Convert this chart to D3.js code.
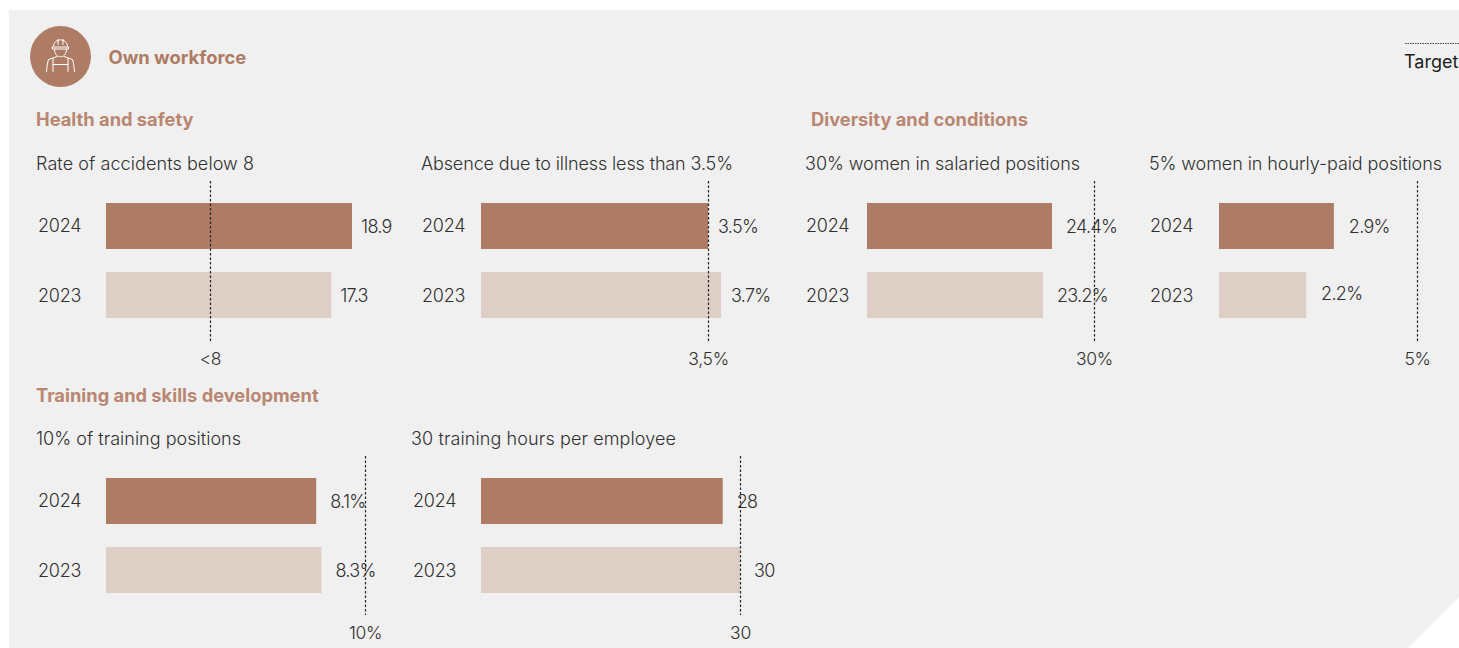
<!DOCTYPE html>
<html>
<head>
<meta charset="utf-8">
<style>
  html, body { margin: 0; padding: 0; background: #fff; overflow: hidden; }
  text { font-family: Inter, "Noto Sans", sans-serif; }
</style>
<script src="https://cdn.jsdelivr.net/npm/d3@7"></script>
</head>
<body>
<svg id="chart" width="1459" height="648"></svg>
<script>
const years = ["2024", "2023"];

const panelTitles = [
  "Rate of accidents below 8",
  "Absence due to illness less than 3.5%",
  "30% women in salaried positions",
  "5% women in hourly-paid positions",
  "10% of training positions",
  "30 training hours per employee"
];
const values2024 = [18.9, 3.5, 24.4, 2.9, 8.1, 28];
const values2023 = [17.3, 3.7, 23.2, 2.2, 8.3, 30];
const valueLabels2024 = ["18.9", "3.5%", "24.4%", "2.9%", "8.1%", "28"];
const valueLabels2023 = ["17.3", "3.7%", "23.2%", "2.2%", "8.3%", "30"];
const targets = [8, 3.5, 30, 5, 10, 30];
const targetLabels = ["<8", "3,5%", "30%", "5%", "10%", "30"];

const sectionTitles = [
  { text: "Health and safety", x: 36, y: 125.5 },
  { text: "Diversity and conditions", x: 811, y: 125.5 },
  { text: "Training and skills development", x: 36, y: 401.5 }
];

// Layout of each small multiple: the x scale runs from the bar origin to the
// pixel reached at domainMax. titleWidth fits each heading to its column.
const layouts = [
  { titleX: 36,   titleWidth: 218, yearX: 38,   x0: 106,  domainMax: 18.9, x1: 352,   top: 0,   labelGap: 9,  lowerDy: 0,  lineTop: 181, lineBottom: 341, targetY: 365 },
  { titleX: 421,  titleWidth: 312, yearX: 422,  x0: 481,  domainMax: 3.5,  x1: 708,   top: 0,   labelGap: 10, lowerDy: 0,  lineTop: 181, lineBottom: 341, targetY: 365 },
  { titleX: 805,  titleWidth: 275, yearX: 806,  x0: 867,  domainMax: 24.4, x1: 1052,  top: 0,   labelGap: 14, lowerDy: 0,  lineTop: 181, lineBottom: 341, targetY: 365 },
  { titleX: 1149, titleWidth: 293, yearX: 1150, x0: 1219, domainMax: 5,    x1: 1417,  top: 0,   labelGap: 15, lowerDy: -2, lineTop: 181, lineBottom: 341, targetY: 365 },
  { titleX: 36,   titleWidth: 205, yearX: 38,   x0: 106,  domainMax: 10,   x1: 365.5, top: 275, labelGap: 14, lowerDy: 0,  lineTop: 456, lineBottom: 615, targetY: 639 },
  { titleX: 411,  titleWidth: 265, yearX: 413,  x0: 481,  domainMax: 30,   x1: 740,   top: 275, labelGap: 14, lowerDy: 0,  lineTop: 456, lineBottom: 615, targetY: 639 }
];

const ACCENT = "#ae7b65";
const HEADING = "#b98771";
const PALE = "#ddcec6";
const INK = "#303030";

const svg = d3.select("#chart");

// Panel background with its clipped lower-right corner
const bg = d3.path();
bg.moveTo(9, 10);
bg.lineTo(1459, 10);
bg.lineTo(1459, 597);
bg.lineTo(1408, 648);
bg.lineTo(9, 648);
bg.closePath();
svg.append("path").attr("d", bg.toString()).attr("fill", "#f0f0f0");

// Header badge with a line-drawn worker in a hard hat
const badge = svg.append("g").attr("transform", "translate(60.5,56.5)");
badge.append("circle").attr("r", 30.5).attr("fill", ACCENT);
const icon = badge.append("g")
  .attr("fill", "none").attr("stroke", "#fff").attr("stroke-width", 1)
  .attr("stroke-linecap", "round").attr("stroke-linejoin", "round");
icon.append("path").attr("d", "M-7,-10 C-7,-19 7,-19 7,-10");
icon.append("path").attr("d", "M-2.5,-17 L-2.5,-12 M2.5,-17 L2.5,-12");
icon.append("path").attr("d", "M-8,-9.5 L8,-9.5 L8,-7.5 L-8,-7.5 Z");
icon.append("path").attr("d", "M-6,-7 C-6,3 6,3 6,-7");
icon.append("path").attr("d", "M-3.5,0 L-12,3 C-13,6 -13.5,10 -14,15");
icon.append("path").attr("d", "M3.5,0 L12,3 C13,6 13.5,10 14,15");
icon.append("path").attr("d", "M-7.5,2 L-7.5,15 M7.5,2 L7.5,15 M-7.5,8 L7.5,8");

svg.append("text").attr("x", 108.5).attr("y", 63.5)
  .attr("font-size", 18.4).attr("font-weight", 700).attr("fill", ACCENT)
  .text("Own workforce");

// Legend for the dotted target line
svg.append("line")
  .attr("x1", 1405).attr("x2", 1459).attr("y1", 43.5).attr("y2", 43.5)
  .attr("stroke", "#444").attr("stroke-width", 1).attr("stroke-dasharray", "1.5 1");
svg.append("text").attr("x", 1404).attr("y", 68)
  .attr("font-size", 18).attr("font-weight", 400).attr("fill", "#1c1c1c")
  .text("Target");

svg.selectAll("text.section").data(sectionTitles).join("text")
  .attr("class", "section")
  .attr("x", d => d.x).attr("y", d => d.y)
  .attr("font-size", 18.3).attr("font-weight", 700).attr("fill", HEADING)
  .text(d => d.text);

// Small multiples
panelTitles.forEach((title, i) => {
  const l = layouts[i];
  const g = svg.append("g");
  const x = d3.scaleLinear().domain([0, l.domainMax]).range([l.x0, l.x1]);
  const y = d3.scaleBand().domain(years)
    .range([203 + l.top, 318 + l.top]).paddingInner(1 / 3).paddingOuter(0);
  const row = [
    { year: "2024", value: values2024[i], label: valueLabels2024[i], fill: ACCENT, yearDy: 0, dy: 0 },
    { year: "2023", value: values2023[i], label: valueLabels2023[i], fill: PALE, yearDy: 1, dy: l.lowerDy }
  ];

  g.append("text").attr("x", l.titleX).attr("y", 170 + l.top)
    .attr("font-size", 18).attr("font-weight", 300).attr("fill", INK)
    .attr("textLength", l.titleWidth).attr("lengthAdjust", "spacing")
    .text(title);

  g.selectAll("rect").data(row).join("rect")
    .attr("x", x(0)).attr("y", d => y(d.year))
    .attr("width", d => x(d.value) - x(0)).attr("height", y.bandwidth())
    .attr("fill", d => d.fill);

  g.selectAll("text.year").data(row).join("text")
    .attr("class", "year")
    .attr("x", l.yearX).attr("y", d => y(d.year) + y.bandwidth() / 2 + 6 + d.yearDy)
    .attr("font-size", 18).attr("font-weight", 300).attr("fill", INK)
    .attr("letter-spacing", "-0.2px")
    .text(d => d.year);

  g.selectAll("text.value").data(row).join("text")
    .attr("class", "value")
    .attr("x", d => x(d.value) + l.labelGap)
    .attr("y", d => y(d.year) + y.bandwidth() / 2 + 6.5 + d.dy)
    .attr("font-size", 18).attr("font-weight", 300).attr("fill", INK)
    .attr("letter-spacing", "-0.7px")
    .text(d => d.label);

  const tx = Math.floor(x(targets[i])) + 0.5;
  g.append("line")
    .attr("x1", tx).attr("x2", tx).attr("y1", l.lineTop).attr("y2", l.lineBottom)
    .attr("stroke", "#222").attr("stroke-width", 1.2).attr("stroke-dasharray", "2.5 2");
  g.append("text").attr("x", tx).attr("y", l.targetY).attr("text-anchor", "middle")
    .attr("font-size", 17.5).attr("font-weight", 300).attr("fill", INK)
    .attr("letter-spacing", "-0.3px")
    .text(targetLabels[i]);
});
</script>
</body>
</html>
